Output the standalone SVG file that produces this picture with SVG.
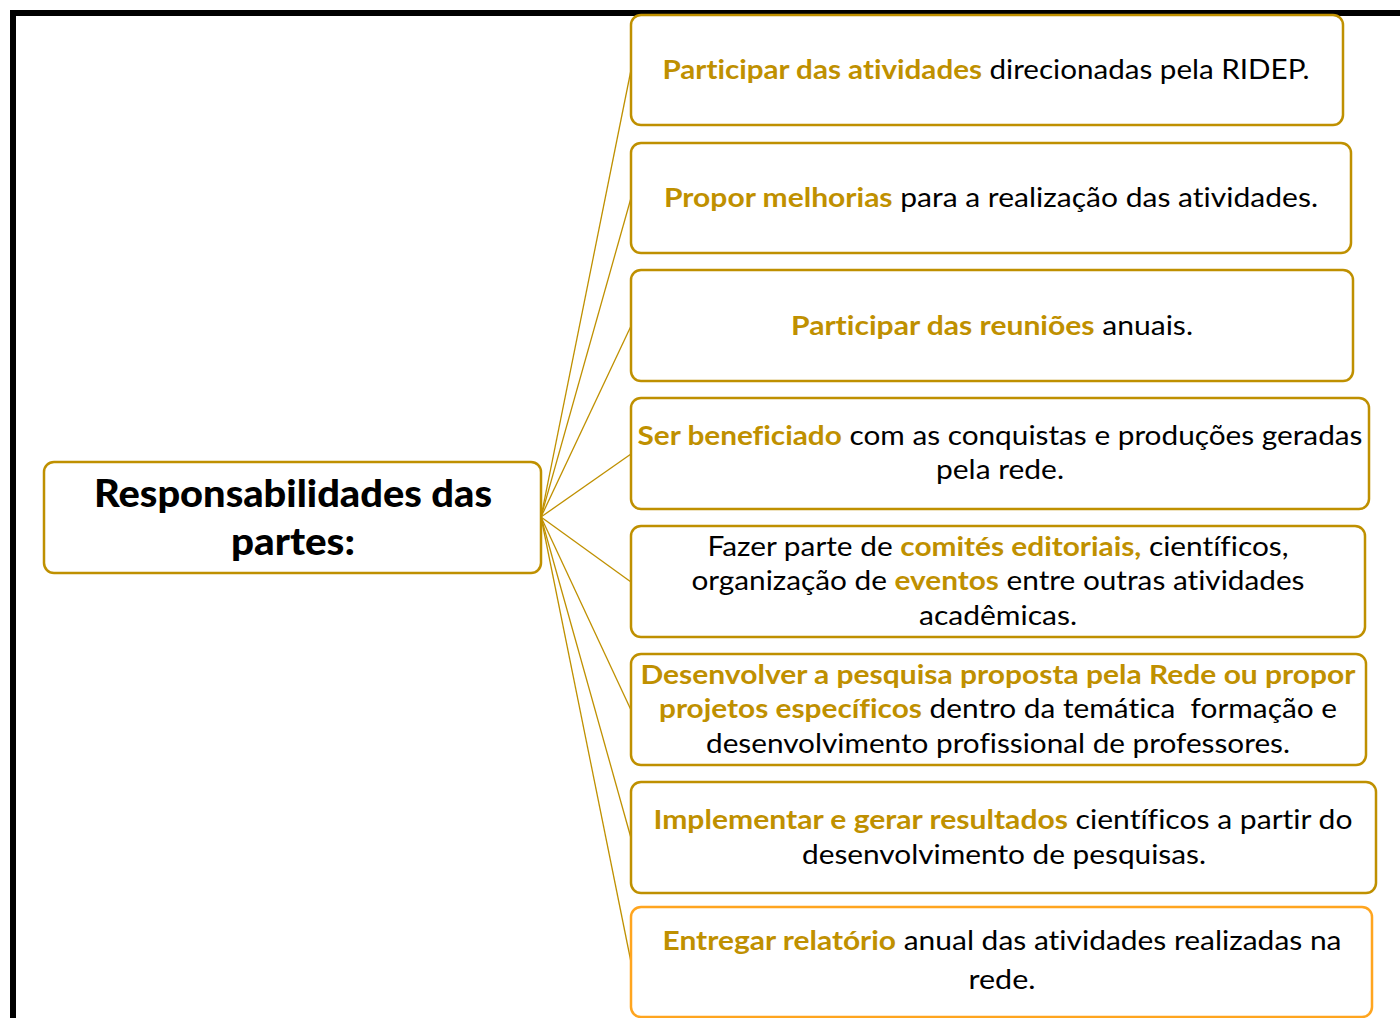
<svg xmlns="http://www.w3.org/2000/svg" width="1400" height="1018" viewBox="0 0 1400 1018">
<style>
.box{fill:#fff;stroke:#BF9000;stroke-width:2.5}
.box8{fill:#fff;stroke:#FFA51F;stroke-width:2.5}
.conn line{stroke:#BF9000;stroke-width:1.3}
text{font-family:Lato,"Open Sans",sans-serif;font-size:27px;fill:#000;text-anchor:middle;font-variant-ligatures:none;font-feature-settings:"liga" 0,"clig" 0}
.g{fill:#BF9000;font-weight:bold}
.title{font-size:38px;font-weight:900}
</style>
<rect width="1400" height="1018" fill="#fff"/>
<path d="M13,1018 V13 H1400" fill="none" stroke="#000" stroke-width="6"/>
<g class="conn">
<line x1="541" y1="517" x2="631" y2="70"/>
<line x1="541" y1="517" x2="631" y2="198"/>
<line x1="541" y1="517" x2="631" y2="326"/>
<line x1="541" y1="517" x2="631" y2="454"/>
<line x1="541" y1="517" x2="631" y2="582"/>
<line x1="541" y1="517" x2="631" y2="710"/>
<line x1="541" y1="517" x2="631" y2="838"/>
<line x1="541" y1="517" x2="631" y2="962"/>
</g>
<g id="main">
<rect class="box" x="44" y="462" width="497" height="111" rx="10"/>
<text class="title" x="293" y="507" textLength="398" lengthAdjust="spacingAndGlyphs">Responsabilidades das</text>
<text class="title" x="293" y="555" textLength="124" lengthAdjust="spacingAndGlyphs">partes:</text>
</g>
<g id="n1">
<rect class="box" x="631" y="15" width="712" height="110" rx="10"/>
<text x="986" y="79" textLength="647" lengthAdjust="spacingAndGlyphs"><tspan class="g">Participar das atividades</tspan> direcionadas pela RIDEP.</text>
</g>
<g id="n2">
<rect class="box" x="631" y="143" width="720" height="110" rx="10"/>
<text x="991" y="207" textLength="654" lengthAdjust="spacingAndGlyphs"><tspan class="g">Propor melhorias</tspan> para a realização das atividades.</text>
</g>
<g id="n3">
<rect class="box" x="631" y="270" width="722" height="111" rx="10"/>
<text x="992" y="335" textLength="402" lengthAdjust="spacingAndGlyphs"><tspan class="g">Participar das reuniões</tspan> anuais.</text>
</g>
<g id="n4">
<rect class="box" x="631" y="398" width="738" height="111" rx="10"/>
<text x="1000" y="445" textLength="725" lengthAdjust="spacingAndGlyphs"><tspan class="g">Ser beneficiado</tspan> com as conquistas e produções geradas</text>
<text x="1000" y="479" textLength="128" lengthAdjust="spacingAndGlyphs">pela rede.</text>
</g>
<g id="n5">
<rect class="box" x="631" y="526" width="734" height="111" rx="10"/>
<text x="998" y="556" textLength="581" lengthAdjust="spacingAndGlyphs">Fazer parte de <tspan class="g">comités editoriais,</tspan> científicos,</text>
<text x="998" y="590" textLength="613" lengthAdjust="spacingAndGlyphs">organização de <tspan class="g">eventos</tspan> entre outras atividades</text>
<text x="998" y="625" textLength="158" lengthAdjust="spacingAndGlyphs">acadêmicas.</text>
</g>
<g id="n6">
<rect class="box" x="631" y="654" width="735" height="111" rx="10"/>
<text class="g" x="998" y="684" textLength="715" lengthAdjust="spacingAndGlyphs">Desenvolver a pesquisa proposta pela Rede ou propor</text>
<text x="998" y="718" textLength="678" lengthAdjust="spacingAndGlyphs" xml:space="preserve" style="white-space:pre"><tspan class="g">projetos específicos</tspan> dentro da temática  formação e</text>
<text x="998" y="753" textLength="584" lengthAdjust="spacingAndGlyphs">desenvolvimento profissional de professores.</text>
</g>
<g id="n7">
<rect class="box" x="631" y="782" width="745" height="111" rx="10"/>
<text x="1003" y="829" textLength="699" lengthAdjust="spacingAndGlyphs"><tspan class="g">Implementar e gerar resultados</tspan> científicos a partir do</text>
<text x="1004" y="864" textLength="404" lengthAdjust="spacingAndGlyphs">desenvolvimento de pesquisas.</text>
</g>
<g id="n8">
<rect class="box8" x="631" y="907" width="741" height="110" rx="10"/>
<text x="1002" y="950" textLength="679" lengthAdjust="spacingAndGlyphs"><tspan class="g">Entregar relatório</tspan> anual das atividades realizadas na</text>
<text x="1002" y="989" textLength="67" lengthAdjust="spacingAndGlyphs">rede.</text>
</g>
</svg>
